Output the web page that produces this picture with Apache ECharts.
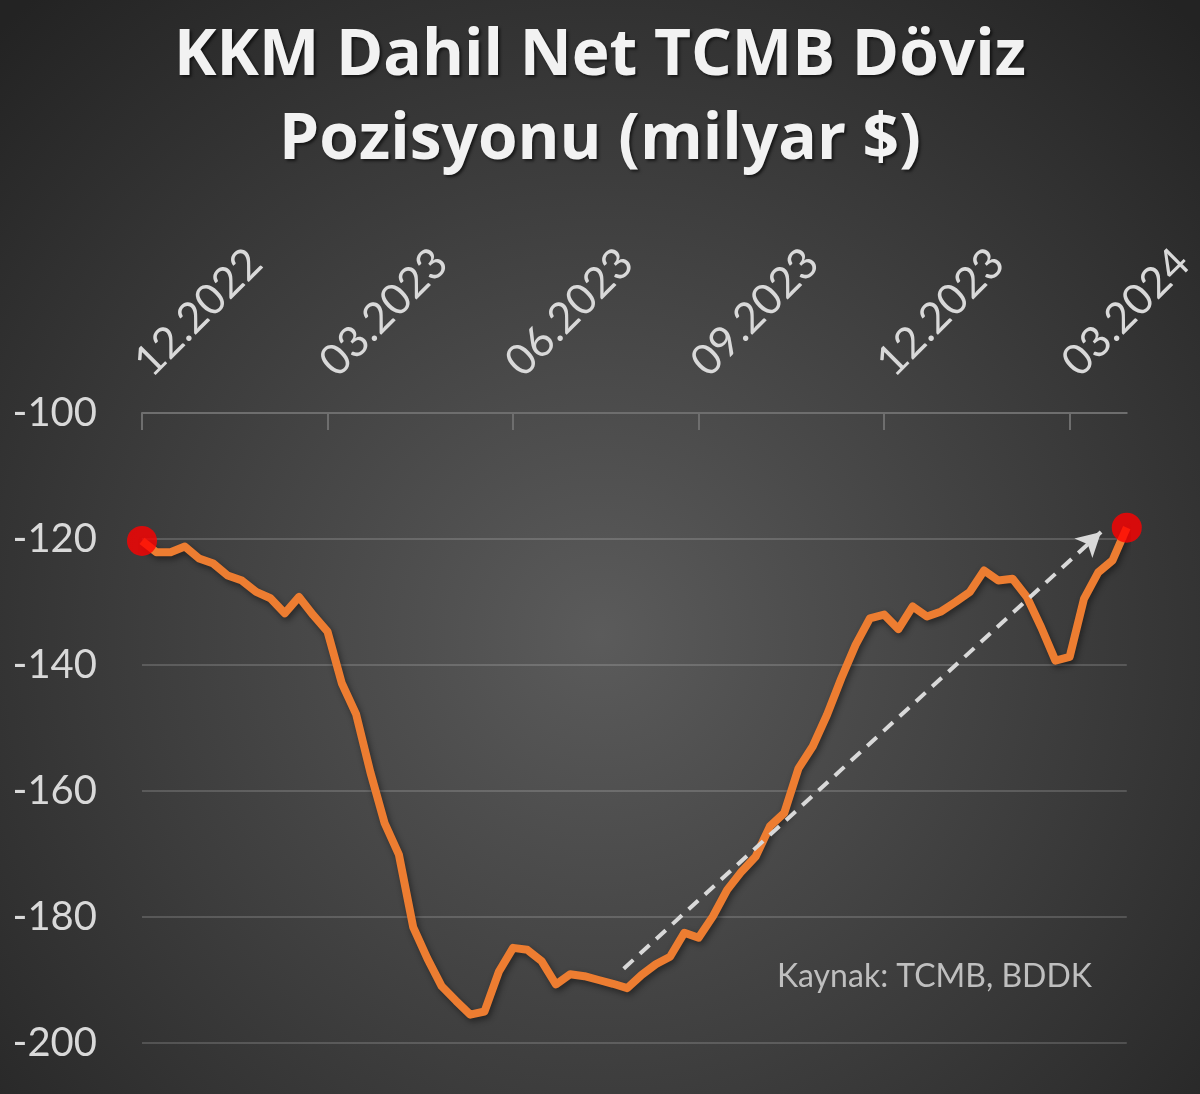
<!DOCTYPE html>
<html lang="tr">
<head>
  <meta charset="UTF-8">
  <title>KKM Dahil Net TCMB Döviz Pozisyonu</title>
  <script src="https://cdn.jsdelivr.net/npm/echarts@6/dist/echarts.min.js"></script>
  <style>
    html, body { margin: 0; padding: 0; background: #2a2a2a; }
    #main { width: 1200px; height: 1094px; }
  </style>
</head>
<body>
<div id="main"></div>
<script>
  // haftalik veri, 02.12.2022 - 29.03.2024 (milyar $)
  var startWeek = '2022-12-02';
  var values = [
    -120.3, -122.1, -122.1, -121.2, -123.1, -123.9, -125.8, -126.6, -128.4, -129.4,
    -131.8, -129.2, -132.1, -134.7, -142.9, -147.8, -157.0, -165.1, -170.1, -181.6,
    -186.6, -191.0, -193.3, -195.5, -195.0, -188.7, -184.9, -185.2, -187.0, -190.7,
    -189.1, -189.4, -190.0, -190.6, -191.3, -189.2, -187.5, -186.3, -182.5, -183.3,
    -179.9, -175.7, -172.8, -170.4, -165.6, -163.5, -156.4, -152.9, -147.9, -142.1,
    -136.8, -132.6, -132.0, -134.3, -130.7, -132.3, -131.5, -130.0, -128.4, -125.0,
    -126.6, -126.3, -129.2, -134.0, -139.3, -138.7, -129.5, -125.3, -123.4, -118.2
  ];
  var tickLabels = ['12.2022', '03.2023', '06.2023', '09.2023', '12.2023', '03.2024'];
  var tickEvery = 13;   // her ceyrek = 13 hafta
  // trend oku (hafta sirasi, deger)
  var arrowStart = [33.75, -188.2];
  var arrowEnd = [67.2, -118.9];

  var weeks = [];
  var d0 = new Date(startWeek + 'T00:00:00Z');
  for (var i = 0; i < values.length; i++) {
    var d = new Date(d0.getTime() + i * 7 * 86400000);
    weeks.push(d.toISOString().slice(0, 10));
  }
  var endPoints = [[0, values[0]], [values.length - 1, values[values.length - 1]]];

  var font = 'Lato, "Open Sans", sans-serif';
  var myChart = echarts.init(document.getElementById('main'));

  myChart.setOption({
    backgroundColor: {
      type: 'radial', x: 0.5, y: 0.58, r: 0.78,
      colorStops: [
        { offset: 0, color: '#5b5b5b' },
        { offset: 1, color: '#232323' }
      ]
    },
    animation: false,
    title: [{
      text: 'KKM Dahil Net TCMB Döviz\nPozisyonu (milyar $)',
      left: 'center',
      top: 10,
      textStyle: {
        color: '#f2f2f2', fontFamily: '"Open Sans", sans-serif', fontWeight: 'bold',
        fontSize: 64, lineHeight: 84,
        textShadowColor: 'rgba(0,0,0,0.6)', textShadowBlur: 3,
        textShadowOffsetX: 2, textShadowOffsetY: 2
      }
    }, {
      text: 'Kaynak: TCMB, BDDK',
      left: 772,
      top: 956,
      textStyle: { color: '#bfbfbf', fontFamily: font, fontWeight: 'normal', fontSize: 32 }
    }],
    grid: { left: 142, right: 71, top: 413, bottom: 51, containLabel: false },
    xAxis: [{
      type: 'category',
      position: 'top',
      data: weeks,
      boundaryGap: false,
      axisLine: { show: true, lineStyle: { color: '#6e6e6e', width: 2 } },
      axisTick: { show: true, inside: true, length: 17, interval: tickEvery - 1,
                  lineStyle: { color: '#6e6e6e', width: 2 } },
      axisLabel: {
        interval: tickEvery - 1, rotate: -45, margin: 44,
        color: '#d9d9d9', fontFamily: font, fontSize: 43,
        formatter: function (val, idx) { return tickLabels[Math.round(idx / tickEvery)]; }
      },
      splitLine: { show: false }
    }, {
      type: 'value', min: 0, max: values.length - 1, show: false
    }],
    yAxis: {
      type: 'value',
      min: -200, max: -100, interval: 20,
      axisLine: { show: false },
      axisTick: { show: false },
      axisLabel: { color: '#d9d9d9', fontFamily: font, fontSize: 40, margin: 45 },
      splitLine: { lineStyle: { color: 'rgba(255,255,255,0.16)', width: 2 } }
    },
    series: [{
      type: 'line',
      data: values,
      symbol: 'none',
      lineStyle: {
        color: '#ed7d31', width: 8, join: 'round',
        shadowColor: 'rgba(0,0,0,0.45)', shadowBlur: 6, shadowOffsetX: 2, shadowOffsetY: 3
      },
      z: 3
    }, {
      type: 'line',
      xAxisIndex: 1,
      data: [],
      silent: true,
      markLine: {
        silent: true,
        symbol: ['none', 'arrow'],
        symbolSize: [20, 24],
        label: { show: false },
        lineStyle: { color: '#d9d9d9', width: 4, type: [13, 9], opacity: 1 },
        data: [[{ coord: arrowStart }, { coord: arrowEnd }]]
      },
      z: 2
    }, {
      type: 'scatter',
      data: endPoints,
      symbol: 'circle',
      symbolSize: 30,
      itemStyle: { color: '#ff0000' },
      z: 4
    }]
  });
</script>
</body>
</html>
